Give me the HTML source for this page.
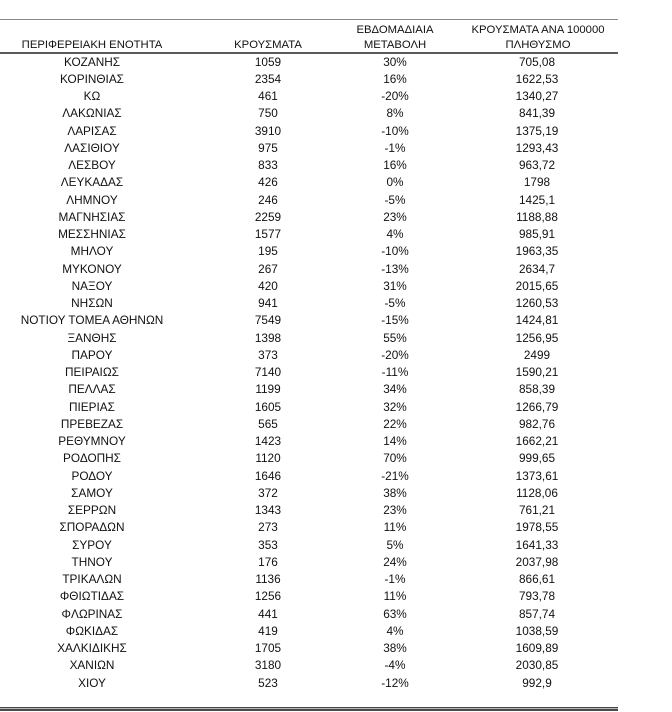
<!DOCTYPE html>
<html><head><meta charset="utf-8">
<style>
html,body{margin:0;padding:0;background:#fff;}
body{width:672px;height:712px;position:relative;overflow:hidden;font-family:"Liberation Sans","DejaVu Sans",sans-serif;font-size:11.8px;color:#111;}
.ln{position:absolute;left:0;width:618px;}
.r{position:absolute;left:0;width:672px;height:17px;line-height:17px;white-space:nowrap;}
.r span{position:absolute;top:0;width:200px;text-align:center;}
.c1{left:-8px}.c2{left:168px}.c3{left:295px}.c4{left:437px}
.h{position:absolute;height:17px;line-height:17px;width:200px;text-align:center;white-space:nowrap;font-size:11.3px;}
</style></head><body>
<div class="ln" style="top:19px;height:1px;background:#8a8a8a"></div>
<div class="h" style="left:-8px;top:37px">ΠΕΡΙΦΕΡΕΙΑΚΗ ΕΝΟΤΗΤΑ</div>
<div class="h" style="left:168px;top:37px">ΚΡΟΥΣΜΑΤΑ</div>
<div class="h" style="left:295px;top:21.6px">ΕΒΔΟΜΑΔΙΑΙΑ</div>
<div class="h" style="left:295px;top:37px">ΜΕΤΑΒΟΛΗ</div>
<div class="h" style="left:438px;top:21.6px">ΚΡΟΥΣΜΑΤΑ ΑΝΑ 100000</div>
<div class="h" style="left:438px;top:37px">ΠΛΗΘΥΣΜΟ</div>
<div class="ln" style="top:52px;height:2px;background:#5a5a5a"></div>

<div class="r" style="top:53.6px"><span class="c1">ΚΟΖΑΝΗΣ</span><span class="c2">1059</span><span class="c3">30%</span><span class="c4">705,08</span></div>
<div class="r" style="top:70.85px"><span class="c1">ΚΟΡΙΝΘΙΑΣ</span><span class="c2">2354</span><span class="c3">16%</span><span class="c4">1622,53</span></div>
<div class="r" style="top:88.1px"><span class="c1">ΚΩ</span><span class="c2">461</span><span class="c3">-20%</span><span class="c4">1340,27</span></div>
<div class="r" style="top:105.35px"><span class="c1">ΛΑΚΩΝΙΑΣ</span><span class="c2">750</span><span class="c3">8%</span><span class="c4">841,39</span></div>
<div class="r" style="top:122.6px"><span class="c1">ΛΑΡΙΣΑΣ</span><span class="c2">3910</span><span class="c3">-10%</span><span class="c4">1375,19</span></div>
<div class="r" style="top:139.85px"><span class="c1">ΛΑΣΙΘΙΟΥ</span><span class="c2">975</span><span class="c3">-1%</span><span class="c4">1293,43</span></div>
<div class="r" style="top:157.1px"><span class="c1">ΛΕΣΒΟΥ</span><span class="c2">833</span><span class="c3">16%</span><span class="c4">963,72</span></div>
<div class="r" style="top:174.35px"><span class="c1">ΛΕΥΚΑΔΑΣ</span><span class="c2">426</span><span class="c3">0%</span><span class="c4">1798</span></div>
<div class="r" style="top:191.6px"><span class="c1">ΛΗΜΝΟΥ</span><span class="c2">246</span><span class="c3">-5%</span><span class="c4">1425,1</span></div>
<div class="r" style="top:208.85px"><span class="c1">ΜΑΓΝΗΣΙΑΣ</span><span class="c2">2259</span><span class="c3">23%</span><span class="c4">1188,88</span></div>
<div class="r" style="top:226.1px"><span class="c1">ΜΕΣΣΗΝΙΑΣ</span><span class="c2">1577</span><span class="c3">4%</span><span class="c4">985,91</span></div>
<div class="r" style="top:243.35px"><span class="c1">ΜΗΛΟΥ</span><span class="c2">195</span><span class="c3">-10%</span><span class="c4">1963,35</span></div>
<div class="r" style="top:260.6px"><span class="c1">ΜΥΚΟΝΟΥ</span><span class="c2">267</span><span class="c3">-13%</span><span class="c4">2634,7</span></div>
<div class="r" style="top:277.85px"><span class="c1">ΝΑΞΟΥ</span><span class="c2">420</span><span class="c3">31%</span><span class="c4">2015,65</span></div>
<div class="r" style="top:295.1px"><span class="c1">ΝΗΣΩΝ</span><span class="c2">941</span><span class="c3">-5%</span><span class="c4">1260,53</span></div>
<div class="r" style="top:312.35px"><span class="c1">ΝΟΤΙΟΥ ΤΟΜΕΑ ΑΘΗΝΩΝ</span><span class="c2">7549</span><span class="c3">-15%</span><span class="c4">1424,81</span></div>
<div class="r" style="top:329.6px"><span class="c1">ΞΑΝΘΗΣ</span><span class="c2">1398</span><span class="c3">55%</span><span class="c4">1256,95</span></div>
<div class="r" style="top:346.85px"><span class="c1">ΠΑΡΟΥ</span><span class="c2">373</span><span class="c3">-20%</span><span class="c4">2499</span></div>
<div class="r" style="top:364.1px"><span class="c1">ΠΕΙΡΑΙΩΣ</span><span class="c2">7140</span><span class="c3">-11%</span><span class="c4">1590,21</span></div>
<div class="r" style="top:381.35px"><span class="c1">ΠΕΛΛΑΣ</span><span class="c2">1199</span><span class="c3">34%</span><span class="c4">858,39</span></div>
<div class="r" style="top:398.6px"><span class="c1">ΠΙΕΡΙΑΣ</span><span class="c2">1605</span><span class="c3">32%</span><span class="c4">1266,79</span></div>
<div class="r" style="top:415.85px"><span class="c1">ΠΡΕΒΕΖΑΣ</span><span class="c2">565</span><span class="c3">22%</span><span class="c4">982,76</span></div>
<div class="r" style="top:433.1px"><span class="c1">ΡΕΘΥΜΝΟΥ</span><span class="c2">1423</span><span class="c3">14%</span><span class="c4">1662,21</span></div>
<div class="r" style="top:450.35px"><span class="c1">ΡΟΔΟΠΗΣ</span><span class="c2">1120</span><span class="c3">70%</span><span class="c4">999,65</span></div>
<div class="r" style="top:467.6px"><span class="c1">ΡΟΔΟΥ</span><span class="c2">1646</span><span class="c3">-21%</span><span class="c4">1373,61</span></div>
<div class="r" style="top:484.85px"><span class="c1">ΣΑΜΟΥ</span><span class="c2">372</span><span class="c3">38%</span><span class="c4">1128,06</span></div>
<div class="r" style="top:502.1px"><span class="c1">ΣΕΡΡΩΝ</span><span class="c2">1343</span><span class="c3">23%</span><span class="c4">761,21</span></div>
<div class="r" style="top:519.35px"><span class="c1">ΣΠΟΡΑΔΩΝ</span><span class="c2">273</span><span class="c3">11%</span><span class="c4">1978,55</span></div>
<div class="r" style="top:536.6px"><span class="c1">ΣΥΡΟΥ</span><span class="c2">353</span><span class="c3">5%</span><span class="c4">1641,33</span></div>
<div class="r" style="top:553.85px"><span class="c1">ΤΗΝΟΥ</span><span class="c2">176</span><span class="c3">24%</span><span class="c4">2037,98</span></div>
<div class="r" style="top:571.1px"><span class="c1">ΤΡΙΚΑΛΩΝ</span><span class="c2">1136</span><span class="c3">-1%</span><span class="c4">866,61</span></div>
<div class="r" style="top:588.35px"><span class="c1">ΦΘΙΩΤΙΔΑΣ</span><span class="c2">1256</span><span class="c3">11%</span><span class="c4">793,78</span></div>
<div class="r" style="top:605.6px"><span class="c1">ΦΛΩΡΙΝΑΣ</span><span class="c2">441</span><span class="c3">63%</span><span class="c4">857,74</span></div>
<div class="r" style="top:622.85px"><span class="c1">ΦΩΚΙΔΑΣ</span><span class="c2">419</span><span class="c3">4%</span><span class="c4">1038,59</span></div>
<div class="r" style="top:640.1px"><span class="c1">ΧΑΛΚΙΔΙΚΗΣ</span><span class="c2">1705</span><span class="c3">38%</span><span class="c4">1609,89</span></div>
<div class="r" style="top:657.35px"><span class="c1">ΧΑΝΙΩΝ</span><span class="c2">3180</span><span class="c3">-4%</span><span class="c4">2030,85</span></div>
<div class="r" style="top:674.6px"><span class="c1">ΧΙΟΥ</span><span class="c2">523</span><span class="c3">-12%</span><span class="c4">992,9</span></div>

<div class="ln" style="top:707px;height:1px;background:#4a4a4a"></div>
<div class="ln" style="top:708px;height:1px;background:#b5b5b5"></div>
<div class="ln" style="top:709px;height:2px;background:#4a4a4a"></div>
</body></html>
